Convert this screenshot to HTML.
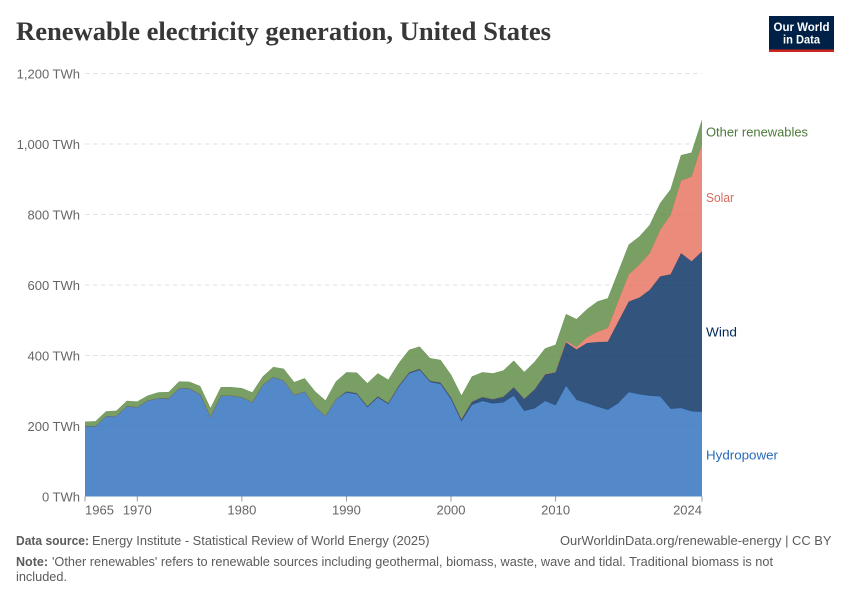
<!DOCTYPE html>
<html lang="en">
<head>
<meta charset="utf-8">
<title>Renewable electricity generation, United States</title>
<style>
html,body{margin:0;padding:0;background:#fff;width:850px;height:600px;overflow:hidden}
svg{display:block;font-family:"Liberation Sans",sans-serif}
</style>
</head>
<body>
<svg id="chart" xmlns="http://www.w3.org/2000/svg" width="850" height="600" viewBox="0 0 850 600">
  <text x="16" y="40" font-family="'Liberation Serif',serif" font-weight="700" font-size="26" fill="#373737" textLength="535" lengthAdjust="spacingAndGlyphs">Renewable electricity generation, United States</text>
  <g>
    <rect x="769" y="16" width="65" height="36" fill="#002147"/>
    <rect x="769" y="49.5" width="65" height="2.5" fill="#ce261e"/>
    <text x="801.5" y="31" text-anchor="middle" font-size="12" font-weight="700" fill="#fff" textLength="56" lengthAdjust="spacingAndGlyphs">Our World</text>
    <text x="801.5" y="43.5" text-anchor="middle" font-size="12" font-weight="700" fill="#fff" textLength="37" lengthAdjust="spacingAndGlyphs">in Data</text>
  </g>
  <g id="grid"></g>
  <g id="areas"></g>
  <g id="axes"></g>
  <g font-size="13">
    <text x="706" y="136.5" fill="#4c7a3a" textLength="102" lengthAdjust="spacingAndGlyphs">Other renewables</text>
    <text x="706" y="202" fill="#d9695a" textLength="28" lengthAdjust="spacingAndGlyphs">Solar</text>
    <text x="706" y="336.5" fill="#00295b" textLength="31" lengthAdjust="spacingAndGlyphs">Wind</text>
    <text x="706" y="459.5" fill="#286bbb" textLength="72" lengthAdjust="spacingAndGlyphs">Hydropower</text>
  </g>
  <g font-size="13" fill="#5b5b5b">
    <text x="16" y="545" font-weight="700" textLength="73" lengthAdjust="spacingAndGlyphs">Data source:</text>
    <text x="92" y="545" textLength="337.5" lengthAdjust="spacingAndGlyphs">Energy Institute - Statistical Review of World Energy (2025)</text>
    <text x="560" y="545" textLength="271.5" lengthAdjust="spacingAndGlyphs">OurWorldinData.org/renewable-energy | CC BY</text>
    <text x="16" y="566" font-weight="700" textLength="32" lengthAdjust="spacingAndGlyphs">Note:</text>
    <text x="52" y="566" textLength="721" lengthAdjust="spacingAndGlyphs">'Other renewables' refers to renewable sources including geothermal, biomass, waste, wave and tidal. Traditional biomass is not</text>
    <text x="16" y="581" textLength="51" lengthAdjust="spacingAndGlyphs">included.</text>
  </g>
</svg>
<script>
const years = Array.from({length: 60}, (_, i) => 1965 + i);
const hydro = [199,199,227,228,256,253,272,278,278,307,306,290,226,286,286,281,267,316,339,328,288,297,255,228,276,295,290,253,281,262,311,349,359,325,319,276,213,260,271,264,267,286,243,250,271,259,314,274,265,255,246,265,296,290,286,284,249,251,242,240];
const wind = [0,0,0,0,0,0,0,0,0,0,0,0,0,0,0,0,0,0,0,0,0,0,0,0,0,3,3,3,3,3,3,3,3,3,4,5,6,9,11,12,16,24,34,54,75,93,123,143,170,183,193,231,257,274,300,340,381,439,425,455];
const solar = [0,0,0,0,0,0,0,0,0,0,0,0,0,0,0,0,0,0,0,0,0,0,0,0,0,0,0,0,0,0,0,0,0,0,0,0,0,0,0,0,0,0,0,0,1,1,4,7,16,29,39,59,77,93,104,132,169,206,240,305];
const other = [13,14,14,15,15,16,14,17,18,19,19,23,24,24,24,26,28,24,28,34,36,38,43,44,50,54,58,65,65,66,64,64,63,64,64,64,67,71,70,73,74,75,76,78,73,77,76,79,80,86,84,83,84,80,80,76,72,72,68,68];
const yTicks = [0,200,400,600,800,1000,1200];
const yTickLabels = ["0 TWh","200 TWh","400 TWh","600 TWh","800 TWh","1,000 TWh","1,200 TWh"];
const xTicks = [1965,1970,1980,1990,2000,2010,2024];

const NS = "http://www.w3.org/2000/svg";
const X0 = 85, X1 = 702, Y0 = 496.5, YTOP = 73.5;
const xScale = y => X0 + (y - 1965) * (X1 - X0) / (2024 - 1965);
const yScale = v => Y0 - v * (Y0 - YTOP) / 1200;
function make(tag, attrs, parent) {
  const el = document.createElementNS(NS, tag);
  for (const k in attrs) el.setAttribute(k, attrs[k]);
  parent.appendChild(el);
  return el;
}

const gridG = document.getElementById("grid");
const axesG = document.getElementById("axes");
yTicks.forEach((t, i) => {
  if (t > 0) {
    const line = make("line", {x1: X0, x2: X1, y1: yScale(t), y2: yScale(t), stroke: "#e2e2e2", "stroke-dasharray": "4.5 3.5"}, gridG);
    
    
  }
  const label = make("text", {x: 80, y: yScale(t) + 4.8, "text-anchor": "end", "font-size": 13, fill: "#666666"}, axesG);
  
  
  label.textContent = yTickLabels[i];
});

const seriesDefs = [
  {name: "hydropower", values: hydro, color: "#286bbb"},
  {name: "wind", values: wind, color: "#00295b"},
  {name: "solar", values: solar, color: "#e56e5a"},
  {name: "other-renewables", values: other, color: "#58873f"}
];
const areasG = document.getElementById("areas");
const base = years.map(() => 0);
seriesDefs.forEach(s => {
  const lower = base.slice();
  s.values.forEach((v, i) => { base[i] += v; });
  const top = years.map((y, i) => xScale(y).toFixed(2) + "," + yScale(base[i]).toFixed(2));
  const bottom = years.map((y, i) => xScale(y).toFixed(2) + "," + yScale(lower[i]).toFixed(2)).reverse();
  const area = make("polygon", {points: top.concat(bottom).join(" "), fill: s.color, "fill-opacity": 0.8}, areasG);
  
  
  const line = make("polyline", {points: top.join(" "), fill: "none", stroke: s.color, "stroke-width": 0.5, "stroke-opacity": 0.7}, areasG);
  
  
});

xTicks.forEach(t => {
  const tick = make("line", {x1: xScale(t), x2: xScale(t), y1: Y0, y2: Y0 + 5, stroke: "#999999"}, axesG);
  
  
  const anchor = t === 1965 ? "start" : t === 2024 ? "end" : "middle";
  const label = make("text", {x: xScale(t), y: 514.5, "text-anchor": anchor, "font-size": 13, fill: "#666666"}, axesG);
  
  
  label.textContent = t;
});
</script>
</body>
</html>
